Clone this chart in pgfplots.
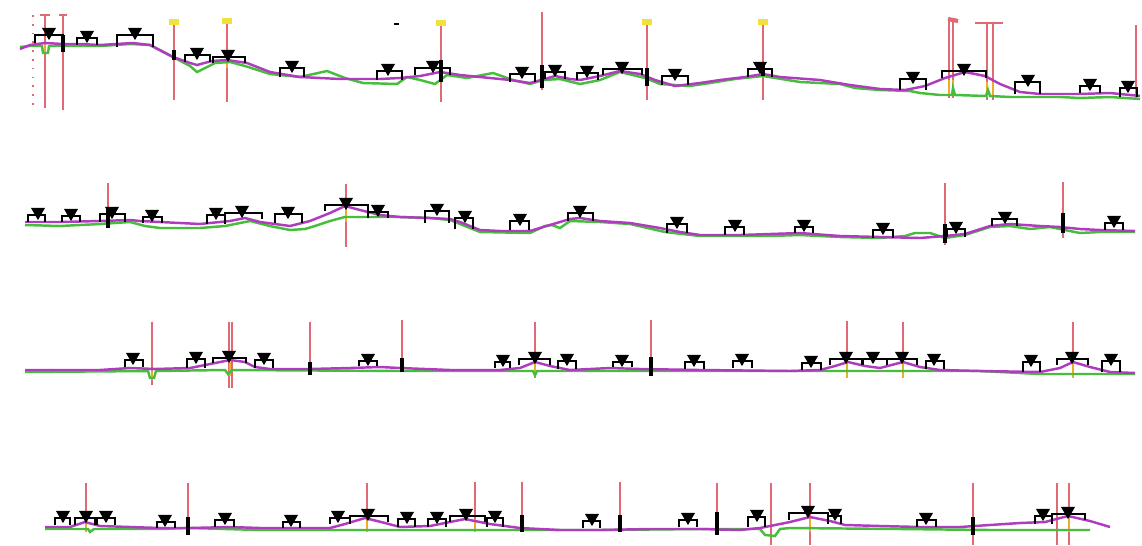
\documentclass[border=0pt]{standalone}
\usepackage{pgfplots}
\pgfplotsset{compat=1.18}
\definecolor{mg}{RGB}{175,60,190}
\definecolor{gr}{RGB}{70,190,60}
\definecolor{rd}{RGB}{225,105,115}
\definecolor{yl}{RGB}{240,225,60}
\definecolor{orl}{RGB}{240,170,40}
\newcommand{\bx}[4]{\addplot[black,line width=0.75pt] coordinates {(#1,#3)(#1,#4)(#2,#4)(#2,#3)};}
\newcommand{\vl}[3]{\addplot[rd,line width=0.4pt] coordinates {(#1,#2)(#1,#3)};}
\newcommand{\tk}[3]{\addplot[black,line width=0.9pt] coordinates {(#1,#2)(#1,#3)};}
\newcommand{\og}[3]{\addplot[orl,line width=0.8pt] coordinates {(#1,#2)(#1,#3)};}
\begin{document}
\begin{tikzpicture}
\begin{axis}[
  width=11.42cm, height=5.45cm, scale only axis,
  xmin=0, xmax=1142, ymin=0, ymax=545, y dir=reverse,
  axis line style={draw=none}, ticks=none,
  axis background/.style={fill=white},
  clip=false,
  tri/.style={only marks, mark=triangle*, mark size=1.9pt, mark options={rotate=180, fill=black, draw=black}}
]
% ---------------- strip 1 ----------------
\addplot[rd,line width=0.5pt,dotted] coordinates {(33,15)(33,110)};
\vl{45}{15}{108}\vl{63}{15}{110}\vl{174}{23}{100}\vl{227}{22}{102}
\vl{441}{23}{102}\vl{542}{12}{90}\vl{647}{22}{100}\vl{763}{22}{100}
\vl{949}{20}{98}\vl{953}{20}{98}\vl{987}{23}{100}\vl{993}{23}{100}\vl{1136}{25}{100}
\addplot[rd,line width=0.8pt] coordinates {(40,15)(50,15)};
\addplot[rd,line width=0.8pt] coordinates {(59,15)(67,15)};
\addplot[rd,line width=0.8pt] coordinates {(975,23)(1003,23)};
\addplot[rd,line width=1.2pt] coordinates {(948,19)(958,21)};
\addplot[only marks, mark=square*, mark size=0.75pt, mark options={xscale=1.6, yscale=0.8}, yl] coordinates {(174,22)(227,21)(441,23)(647,22)(763,22)};
\addplot[black,line width=0.8pt] coordinates {(394,24)(399,24)};
\og{949}{80}{95}\og{953}{80}{95}\og{987}{82}{97}\og{993}{82}{97}\og{45}{44}{52}\og{227}{60}{68}
\addplot[gr,line width=0.7pt] coordinates {(20,47)(30,46)(42,46)(43,53)(48,53)(49,46)(62,46)(80,46)(100,46)(130,44)(150,45)(175,58)(190,66)(197,72)(205,68)(215,63)(230,62)(245,66)(270,74)(300,77)(327,71)(345,78)(363,83)(397,84)(407,77)(420,80)(435,84)(447,75)(467,78)(493,73)(513,80)(530,84)(543,80)(560,79)(580,84)(600,80)(620,72)(645,78)(660,84)(690,86)(710,83)(735,79)(763,76)(800,82)(840,84)(855,88)(880,90)(910,91)(920,93)(940,95)(952,95)(953,88)(955,95)(986,96)(988,90)(990,96)(1010,97)(1060,97)(1080,98)(1110,97)(1140,99)};
\addplot[mg,line width=0.7pt] coordinates {(20,49)(30,45)(45,43)(63,44)(80,44)(100,45)(133,43)(150,45)(173,57)(190,63)(197,65)(212,61)(227,60)(247,63)(270,72)(300,77)(340,79)(380,79)(400,78)(420,76)(440,72)(460,75)(480,77)(510,80)(530,83)(545,79)(555,76)(570,79)(580,80)(600,76)(620,71)(640,74)(655,80)(675,86)(700,83)(720,80)(745,77)(763,74)(780,77)(820,80)(850,85)(880,89)(905,90)(925,86)(945,78)(965,72)(985,76)(1000,84)(1020,92)(1040,94)(1080,94)(1110,93)(1140,96)};
\tk{63}{35}{52}\tk{174}{50}{60}\tk{441}{60}{82}\tk{542}{65}{88}\tk{647}{68}{86}\tk{763}{63}{76}
\bx{35}{63}{43}{35}\bx{77}{97}{45}{38}\bx{117}{153}{47}{35}\bx{185}{210}{62}{55}
\bx{213}{245}{63}{57}\bx{280}{304}{77}{68}\bx{377}{402}{80}{71}\bx{415}{450}{75}{68}
\bx{510}{535}{82}{74}\bx{545}{565}{79}{72}\bx{577}{598}{80}{73}\bx{603}{642}{75}{69}
\bx{662}{688}{85}{76}\bx{748}{772}{77}{69}\bx{900}{926}{90}{79}\bx{942}{986}{78}{71}
\bx{1015}{1040}{94}{82}\bx{1080}{1100}{93}{86}\bx{1120}{1137}{97}{88}
\addplot[tri] coordinates {(49,32)(87,35)(135,32)(197,52)(228,54)(292,65)(388,68)(433,65)(522,71)(555,69)(587,70)(622,66)(675,73)(760,66)(913,76)(964,68)(1028,79)(1090,83)(1128,85)};
% ---------------- strip 2 ----------------
\vl{108}{183}{227}\vl{346}{184}{247}\vl{945}{183}{245}\vl{1063}{182}{238}
\og{346}{206}{222}
\addplot[gr,line width=0.7pt] coordinates {(25,225)(60,226)(100,224)(130,222)(145,226)(160,228)(200,228)(225,226)(250,221)(270,226)(290,230)(305,229)(315,226)(330,221)(345,217)(400,217)(430,218)(450,220)(460,224)(480,232)(530,233)(545,226)(552,225)(560,228)(570,221)(600,222)(630,224)(665,232)(700,236)(770,236)(800,235)(840,237)(880,238)(905,236)(915,233)(930,233)(945,238)(965,235)(990,227)(1010,226)(1030,229)(1050,227)(1065,230)(1080,233)(1100,232)(1135,232)};
\addplot[mg,line width=0.7pt] coordinates {(25,222)(60,222)(100,221)(130,220)(140,221)(200,224)(230,221)(245,218)(260,222)(290,226)(310,221)(330,213)(345,206)(360,210)(380,215)(400,217)(430,218)(450,219)(460,222)(480,230)(500,231)(530,231)(550,225)(570,219)(580,218)(600,221)(630,223)(660,228)(680,232)(700,235)(740,235)(770,234)(800,233)(840,236)(880,237)(920,238)(945,236)(965,234)(990,226)(1010,224)(1040,226)(1060,227)(1080,229)(1100,230)(1135,231)};
\tk{108}{209}{228}\tk{945}{224}{243}\tk{1063}{213}{233}
\bx{28}{45}{222}{215}\bx{62}{80}{222}{216}\bx{100}{125}{222}{214}\bx{143}{162}{223}{217}
\bx{207}{225}{224}{215}\bx{225}{262}{219}{213}\bx{275}{302}{223}{214}\bx{325}{368}{211}{205}
\bx{368}{388}{218}{212}\bx{425}{449}{223}{211}\bx{455}{473}{229}{218}\bx{510}{529}{230}{221}
\bx{568}{593}{221}{213}\bx{667}{687}{233}{224}\bx{725}{744}{235}{227}\bx{795}{813}{233}{227}
\bx{873}{893}{238}{230}\bx{947}{965}{237}{229}\bx{992}{1017}{226}{219}\bx{1105}{1123}{230}{223}
\addplot[tri] coordinates {(38,212)(71,213)(112,211)(152,214)(216,212)(242,210)(288,211)(346,202)(378,209)(437,208)(465,215)(520,218)(580,210)(677,221)(735,224)(804,224)(883,227)(956,226)(1005,216)(1114,220)};
% ---------------- strip 3 ----------------
\vl{152}{322}{385}\vl{229}{322}{388}\vl{232}{322}{388}\vl{310}{322}{375}\vl{402}{320}{372}
\vl{535}{322}{378}\vl{651}{320}{376}\vl{847}{321}{358}\vl{903}{322}{358}\vl{1073}{322}{358}
\og{152}{371}{380}\og{230}{362}{376}\og{535}{363}{377}\og{847}{362}{378}\og{903}{362}{378}\og{1073}{362}{378}
\addplot[gr,line width=0.7pt] coordinates {(25,372)(148,371)(150,378)(154,378)(156,371)(225,370)(228,374)(232,370)(400,371)(533,371)(535,375)(537,371)(800,371)(850,371)(900,371)(980,371)(1040,374)(1135,374)};
\addplot[mg,line width=0.7pt] coordinates {(25,370)(100,370)(130,368)(155,369)(190,368)(205,365)(230,360)(245,362)(255,367)(270,369)(310,369)(350,368)(380,367)(400,368)(450,370)(500,370)(520,368)(535,362)(550,366)(570,370)(610,368)(640,369)(700,370)(790,371)(820,370)(835,366)(848,362)(865,366)(880,368)(903,362)(920,367)(940,370)(980,371)(1040,372)(1060,368)(1073,362)(1090,367)(1110,372)(1135,373)};
\tk{310}{362}{375}\tk{402}{358}{372}\tk{651}{357}{376}
\bx{125}{143}{367}{360}\bx{187}{205}{368}{359}\bx{213}{246}{363}{358}\bx{255}{273}{368}{360}
\bx{359}{377}{366}{361}\bx{495}{510}{368}{362}\bx{519}{550}{365}{359}\bx{558}{576}{369}{361}
\bx{613}{632}{367}{362}\bx{685}{704}{369}{362}\bx{733}{752}{368}{361}\bx{802}{821}{370}{363}
\bx{830}{862}{365}{359}\bx{863}{887}{365}{359}\bx{887}{917}{365}{359}\bx{926}{944}{369}{361}
\bx{1023}{1040}{372}{362}\bx{1057}{1088}{365}{359}\bx{1102}{1120}{372}{361}
\addplot[tri] coordinates {(133,357)(196,356)(229,355)(264,357)(368,358)(503,359)(535,356)(567,358)(622,359)(694,359)(742,358)(811,360)(846,356)(873,356)(902,356)(934,358)(1031,359)(1072,356)(1111,358)};
% ---------------- strip 4 ----------------
\vl{86}{483}{525}\vl{188}{483}{535}\vl{367}{483}{530}\vl{475}{482}{527}\vl{522}{482}{530}
\vl{620}{482}{530}\vl{717}{483}{535}\vl{771}{483}{545}\vl{810}{483}{545}\vl{973}{483}{545}
\vl{1057}{483}{545}\vl{1069}{483}{545}
\og{86}{521}{532}\og{367}{518}{532}\og{475}{519}{532}\og{810}{517}{532}\og{1069}{516}{532}
\addplot[gr,line width=0.7pt] coordinates {(45,529)(88,529)(90,532)(94,529)(160,529)(190,528)(260,530)(400,530)(440,530)(520,530)(600,530)(700,529)(760,529)(765,535)(775,536)(780,529)(790,528)(900,529)(990,530)(1090,530)};
\addplot[mg,line width=0.7pt] coordinates {(45,527)(70,527)(85,522)(100,526)(130,527)(160,528)(190,528)(230,527)(260,528)(300,528)(330,528)(345,524)(365,518)(385,523)(400,527)(430,526)(465,519)(490,524)(520,528)(560,530)(600,530)(650,529)(700,529)(740,530)(760,528)(775,525)(790,522)(810,517)(830,521)(845,525)(880,526)(920,527)(960,527)(990,525)(1020,523)(1045,522)(1068,516)(1090,521)(1110,527)};
\tk{188}{517}{535}\tk{522}{515}{532}\tk{620}{515}{532}\tk{717}{512}{535}\tk{973}{517}{535}
\bx{55}{70}{525}{518}\bx{75}{95}{525}{518}\bx{97}{115}{525}{518}\bx{157}{175}{528}{522}
\bx{215}{234}{527}{520}\bx{283}{300}{528}{522}\bx{330}{350}{524}{518}\bx{350}{388}{522}{516}
\bx{398}{415}{527}{519}\bx{428}{446}{527}{519}\bx{450}{485}{522}{516}\bx{487}{503}{527}{518}
\bx{583}{600}{528}{521}\bx{679}{697}{527}{520}\bx{748}{765}{527}{517}\bx{789}{828}{520}{513}
\bx{828}{841}{524}{516}\bx{917}{936}{527}{520}\bx{1035}{1052}{524}{516}\bx{1052}{1085}{520}{514}
\addplot[tri] coordinates {(63,515)(86,515)(106,515)(165,519)(225,517)(291,519)(338,515)(368,513)(407,516)(437,516)(466,513)(495,515)(592,518)(688,517)(757,514)(808,510)(835,513)(926,517)(1043,513)(1068,511)};
\end{axis}
\end{tikzpicture}
\end{document}
